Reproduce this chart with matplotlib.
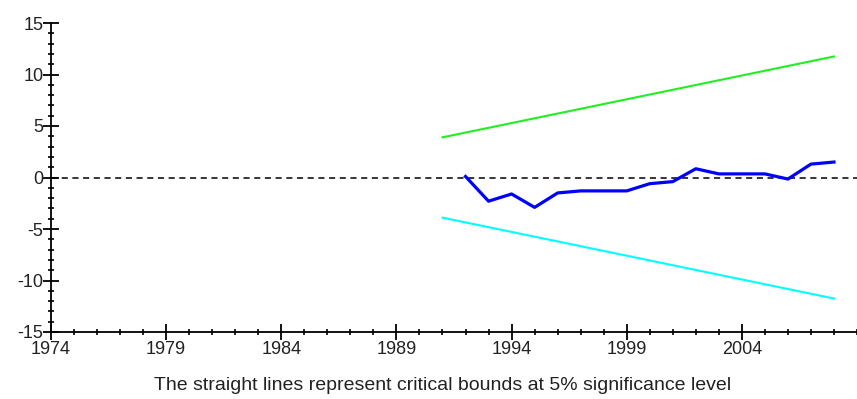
import numpy as np
import matplotlib.pyplot as plt
from matplotlib.ticker import MultipleLocator

plt.rcParams['font.family'] = ['Liberation Sans', 'DejaVu Sans']
plt.rcParams['axes.unicode_minus'] = False

# CUSUM of recursive residuals
years = [1992, 1993, 1994, 1995, 1996, 1997, 1998, 1999, 2000,
         2001, 2002, 2003, 2004, 2005, 2006, 2007, 2008]
cusum = [0.1, -2.3, -1.6, -2.9, -1.5, -1.3, -1.3, -1.3, -0.6,
         -0.4, 0.85, 0.35, 0.35, 0.35, -0.15, 1.3, 1.5]

# 5% critical bounds (straight lines)
bound_years = [1991, 2008]
upper = [3.9, 11.75]
lower = [-3.9, -11.75]

caption = 'The straight lines represent critical bounds at 5% significance level'

fig = plt.figure(figsize=(8.57, 3.99), dpi=100)
ax = fig.add_axes([51 / 857, 1 - 332 / 399, 1 - 51 / 857, (332 - 23) / 399])

ax.axhline(0, color='black', linestyle=(0, (4, 3)), linewidth=1.1, zorder=1)
ax.plot(bound_years, upper, color='#22ee22', linewidth=1.5)
ax.plot(bound_years, lower, color='#00ffff', linewidth=1.5)
ax.plot(years, cusum, color='#0000ff', linewidth=2.3)

ax.set_xlim(1974, 2009)
ax.set_ylim(-15, 15)
ax.set_xticks(np.arange(1974, 2005, 5))
ax.xaxis.set_minor_locator(MultipleLocator(1))
ax.yaxis.set_major_locator(MultipleLocator(5))
ax.yaxis.set_minor_locator(MultipleLocator(1))

for side in ['top', 'right']:
    ax.spines[side].set_visible(False)
for side in ['left', 'bottom']:
    ax.spines[side].set_linewidth(1.3)

ax.tick_params(which='major', direction='inout', length=11, width=1.3,
               labelsize=13, colors='black', labelcolor='#222222')
ax.tick_params(which='minor', direction='inout', length=5, width=1.2)
ax.tick_params(axis='y', which='major', pad=0)
ax.tick_params(axis='x', which='major', pad=1)

fig.text(443 / 857, 1 - 385 / 399, caption, fontsize=14, color='#222222',
         ha='center', va='center')

fig.savefig('out.png', dpi=100)
